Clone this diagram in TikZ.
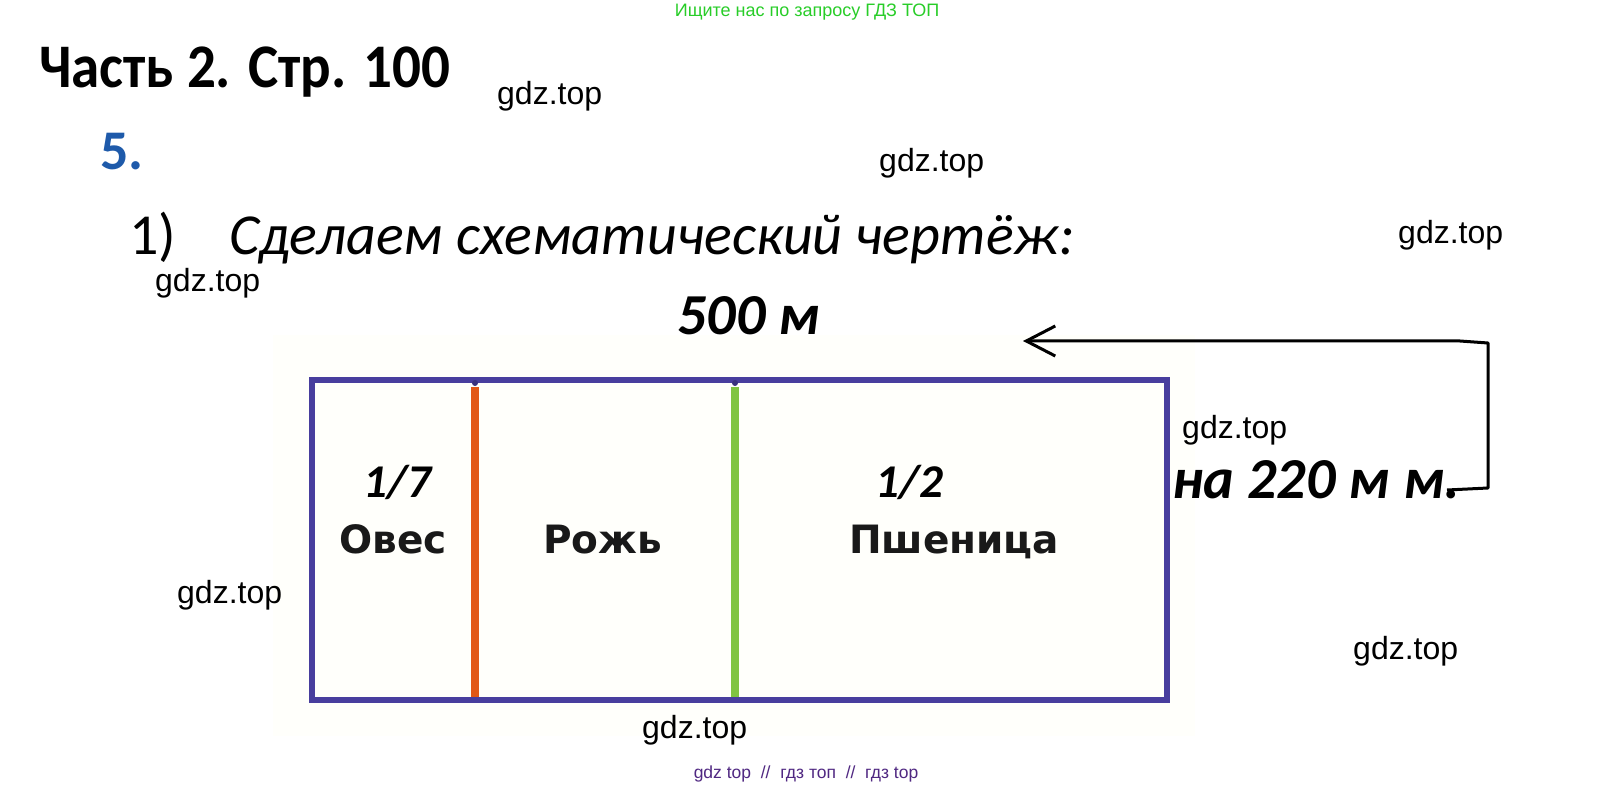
\documentclass[tikz,border=0pt]{standalone}
\usepackage{fontspec}
\setmainfont{Liberation Sans}
\newfontfamily\calfont{Carlito}
\newfontfamily\djfont{DejaVu Sans}
\usetikzlibrary{arrows.meta}
\definecolor{wmgreen}{RGB}{40,205,40}
\definecolor{numblue}{RGB}{30,90,170}
\definecolor{rectblue}{RGB}{72,62,158}
\definecolor{orline}{RGB}{226,88,22}
\definecolor{grline}{RGB}{128,196,66}
\definecolor{footpurple}{RGB}{80,40,130}
\definecolor{labelblack}{RGB}{25,25,25}
\definecolor{fieldbg}{RGB}{255,255,251}
\begin{document}
\begin{tikzpicture}[x=1pt,y=-1pt,
  wm/.style={anchor=west,inner sep=0,font=\fontsize{32}{32}\selectfont},
  bi/.style={anchor=base west,inner sep=0,font=\calfont\bfseries\itshape\fontsize{58}{58}\selectfont},
  frac/.style={anchor=base west,inner sep=0,font=\calfont\bfseries\itshape\fontsize{47}{47}\selectfont},
  crop/.style={anchor=base west,inner sep=0,text=labelblack,font=\djfont\bfseries\fontsize{39}{39}\selectfont},
  frame/.style={draw=rectblue,line width=6pt},
  divider/.style={line width=8pt},
  conn/.style={draw=black,line width=3pt,line join=round,-{Straight Barb[length=29pt,width=30pt,line width=3pt]}}
]
\useasboundingbox (0,0) rectangle (1615,786);
\fill[white] (0,0) rectangle (1615,786);
% field background
\fill[fieldbg] (273,335) rectangle (1195,736);
% header
\node[anchor=base,inner sep=0,text=wmgreen,font=\fontsize{18}{18}\selectfont] (top) at (807,17) {Ищите нас по запросу ГДЗ ТОП};
\node[anchor=base west,inner sep=0,font=\calfont\bfseries\fontsize{62}{62}\selectfont] (part) at (39,88) {\scalebox{0.92}[1]{Часть 2. Стр. 100}};
\node[anchor=base west,inner sep=0,text=numblue,font=\calfont\bfseries\fontsize{56}{56}\selectfont] (num) at (100,170) {5.};
\node[anchor=base west,inner sep=0,font=\calfont\fontsize{58}{58}\selectfont] (one) at (129,255) {1)};
\node[anchor=base west,inner sep=0,font=\calfont\itshape\fontsize{58}{58}\selectfont] (task) at (229,255) {Сделаем схематический чертёж:};
% field
\draw[frame] (312,380) rectangle (1167,700);
\draw[divider,orline] (475,387) -- (475,697);
\draw[divider,grline] (735,387) -- (735,697);
\fill[rectblue!80!black] (475,383) circle (3);
\fill[rectblue!80!black] (735,383) circle (3);
% labels
\node[bi] (len) at (677,335) {500 м};
\node[bi] (diff) at (1172,498) {на 220 м м.};
\node[frac] (f7) at (363,497) {1/7};
\node[frac] (f2) at (875,497) {1/2};
\node[crop] (oats) at (339,553) {Овес};
\node[crop] (rye) at (543,553) {Рожь};
\node[crop] (wheat) at (849,553) {Пшеница};
% arrow
\coordinate (a0) at (1447,490);
\coordinate (a1) at (1488,488);
\coordinate (a2) at (1488,343);
\coordinate (a3) at (1460,341);
\coordinate (a4) at (1023,341);
\draw[conn] (a0) -- (a1) -- (a2) -- (a3) -- (a4);
% watermarks
\node[wm] (w1) at (497,96) {gdz.top};
\node[wm] (w2) at (879,163) {gdz.top};
\node[wm] (w3) at (1398,235) {gdz.top};
\node[wm] (w4) at (155,283) {gdz.top};
\node[wm] (w5) at (1182,430) {gdz.top};
\node[wm] (w6) at (177,595) {gdz.top};
\node[wm] (w7) at (1353,651) {gdz.top};
\node[wm] (w8) at (642,730) {gdz.top};
% footer
\node[anchor=base,inner sep=0,text=footpurple,font=\fontsize{17.5}{17.5}\selectfont] (foot) at (806,778) {gdz top\ \ //\ \ гдз топ\ \ //\ \ гдз top};
\end{tikzpicture}
\end{document}
